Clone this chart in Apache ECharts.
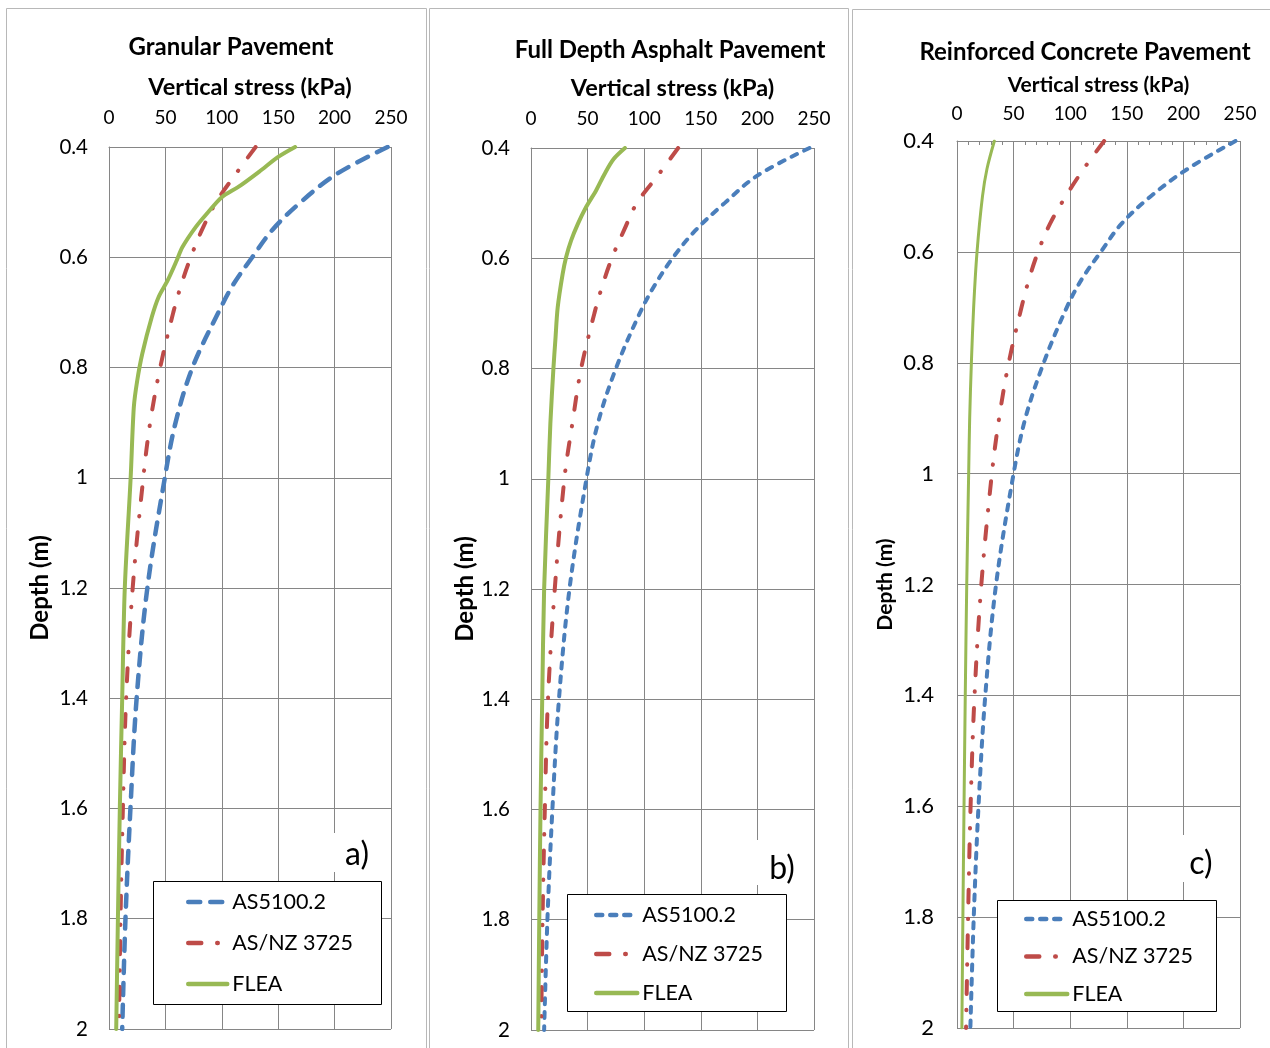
<!DOCTYPE html>
<html><head><meta charset="utf-8">
<script src="https://cdn.jsdelivr.net/npm/echarts@6/dist/echarts.min.js"></script>
<style>html,body{margin:0;padding:0;background:#fff}#c{width:1270px;height:1048px}</style>
</head><body><div id="c"></div>
<script>
// ---------- DATA ----------
const panelTitles = ['Granular Pavement', 'Full Depth Asphalt Pavement', 'Reinforced Concrete Pavement'];
const panelTags = ['a)', 'b)', 'c)'];
const seriesNames = ['AS5100.2', 'AS/NZ 3725', 'FLEA'];
const xAxisTitle = 'Vertical stress (kPa)';
const yAxisTitle = 'Depth (m)';

// depths (m) for the code curves
const depthStd = [0.4, 0.45, 0.5, 0.55, 0.6, 0.65, 0.7, 0.8, 0.9, 1.0, 1.2, 1.4, 1.6, 1.8, 2.0];

// a) Granular pavement
const as5100A = [247, 201, 170, 145, 127, 110, 97, 74, 59, 49.5, 34, 24.5, 19, 14.6, 11.7];
const asnzA   = [130, 112, 95, 82.5, 72.5, 64, 57, 45.4, 36.5, 30.4, 21, 15.2, 12.3, 10.2, 8.8];
const fleaDepthA = [0.4, 0.418, 0.445, 0.472, 0.491, 0.518, 0.545, 0.582, 0.606, 0.642, 0.672, 0.708, 0.775, 0.824, 0.872, 1.0, 1.2, 1.4, 1.6, 1.8, 2.0];
const fleaA      = [165, 150, 133, 115, 100, 88, 77, 65, 60, 52, 44, 38, 29.5, 25, 22, 19.2, 14, 11.7, 9.6, 7.9, 6.4];

// b) Full depth asphalt pavement
const as5100B = [246, 200, 171, 145, 125, 109, 96, 75, 59, 49, 34, 24.7, 18.9, 14.5, 11.6];
const asnzB   = [130, 112, 93.5, 82, 71.4, 63, 56, 44.3, 36.5, 29.5, 21, 15, 12.2, 10.2, 9];
const fleaDepthB = [0.4, 0.42, 0.447, 0.477, 0.507, 0.538, 0.568, 0.598, 0.628, 0.689, 0.749, 0.8, 0.9, 1.0, 1.2, 1.4, 1.6, 1.8, 2.0];
const fleaB      = [83, 73, 65, 57.5, 48.7, 41.3, 35.4, 31, 28, 23.6, 21.5, 19.8, 17.1, 15.3, 11.6, 9.9, 8.4, 7.3, 6.4];

// c) Reinforced concrete pavement
const as5100C = [246, 204, 171, 145, 127, 110, 97, 76.6, 60.4, 50, 34.5, 25, 19, 14.8, 11.8];
const asnzC   = [130, 112, 96, 82, 71.6, 63.5, 57, 45.7, 37.2, 30.8, 21.5, 15.5, 12, 9.8, 8];
const fleaDepthC = [0.4, 0.45, 0.5, 0.6, 0.7, 0.8, 0.9, 1.0, 1.2, 1.4, 1.6, 1.8, 2.0];
const fleaC      = [33, 26.5, 22.5, 17.7, 14.7, 12.7, 11.2, 10.3, 8.6, 7.3, 6.2, 5.2, 4.3];

const stressMin = 0, stressMax = 250, stressStep = 50;
const depthMin = 0.4, depthMax = 2.0, depthStep = 0.2;

// ---------- STYLE / LAYOUT ----------
const FF = 'Lato, "Open Sans", sans-serif';
const BLUE = '#4a7ebb', RED = '#be4b48', GREEN = '#98b954', GRID = '#868686';

const grids = [
  {left: 109, top: 147, width: 282, height: 882},
  {left: 531, top: 148, width: 283, height: 882},
  {left: 957, top: 141, width: 283, height: 887}
];
const panelCfg = [
  {titleX: 231, titleY: 47, titleSize: 24, nameSize: 23.5, nameGap: 48, tickSize: 19, tickMargin: 20,
   ySize: 20.5, yMargin: 21, yNameSize: 24, yNameGap: 57,
   blueDash: [12, 10], blueW: 4.5, redW: 4, greenW: 4,
   legendBox: [153.5, 881.5, 228, 123], legendLeft: 186, legendTop: 891, legendGap: 19, legendIconW: 39,
   tag: {x: 357, y: 855, box: [329, 833, 52, 39]}},
  {titleX: 670, titleY: 50, titleSize: 24, nameSize: 23.5, nameGap: 48, tickSize: 19, tickMargin: 20,
   ySize: 20.5, yMargin: 21, yNameSize: 24, yNameGap: 54,
   blueDash: [6, 8], blueW: 4, redW: 4, greenW: 4,
   legendBox: [567.5, 894.5, 219, 117], legendLeft: 594, legendTop: 904, legendGap: 17, legendIconW: 41,
   tag: {x: 782, y: 869, box: [753, 840, 50, 45]}},
  {titleX: 1085, titleY: 52, titleSize: 24, nameSize: 21, nameGap: 45, tickSize: 19, tickMargin: 18,
   ySize: 22, yMargin: 23, yNameSize: 21, yNameGap: 61,
   blueDash: [6, 8], blueW: 4, redW: 4, greenW: 3,
   legendBox: [997.5, 900.5, 219, 111], legendLeft: 1024, legendTop: 908, legendGap: 15.5, legendIconW: 41,
   tag: {x: 1201, y: 864, box: [1178, 835, 44, 47]}}
];

const panelData = [
  {blue: as5100A, red: asnzA, greenD: fleaDepthA, green: fleaA},
  {blue: as5100B, red: asnzB, greenD: fleaDepthB, green: fleaB},
  {blue: as5100C, red: asnzC, greenD: fleaDepthC, green: fleaC}
];

function pairs(xs, ys) { return xs.map((v, i) => [v, ys[i]]); }

const xAxes = [], yAxes = [], series = [], legends = [], graphics = [];
const panelBorders = [[6.5, 8.5, 420, 1060], [429.5, 8.5, 419, 1060], [852.5, 9.5, 430, 1060]];

panelCfg.forEach((p, i) => {
  const d = panelData[i];
  xAxes.push({
    gridIndex: i, type: 'value', position: 'top', min: stressMin, max: stressMax, interval: stressStep,
    name: xAxisTitle, nameLocation: 'middle', nameGap: p.nameGap,
    nameTextStyle: {fontSize: p.nameSize, fontWeight: 'bold', color: '#000', fontFamily: FF},
    axisLine: {show: true, lineStyle: {color: GRID, width: 1}},
    axisTick: {show: i === 2, inside: true, length: 5, lineStyle: {color: GRID}},
    minorTick: {show: i === 2, splitNumber: 5, length: 4, lineStyle: {color: GRID}},
    axisLabel: {fontSize: p.tickSize, color: '#000', margin: p.tickMargin, fontFamily: FF},
    splitLine: {show: true, lineStyle: {color: GRID, width: 1}}
  });
  yAxes.push({
    gridIndex: i, type: 'value', inverse: true, min: depthMin, max: depthMax, interval: depthStep,
    name: yAxisTitle, nameLocation: 'middle', nameGap: p.yNameGap,
    nameTextStyle: {fontSize: p.yNameSize, fontWeight: 'bold', color: '#000', fontFamily: FF},
    axisLine: {show: true, lineStyle: {color: GRID, width: 1}},
    axisTick: {show: false},
    axisLabel: {fontSize: p.ySize, color: '#000', margin: p.yMargin, fontFamily: FF},
    splitLine: {show: true, lineStyle: {color: GRID, width: 1}}
  });
  const tag = '@' + i;
  series.push({
    type: 'line', name: seriesNames[0] + tag, xAxisIndex: i, yAxisIndex: i,
    data: pairs(d.blue, depthStd), symbol: 'none', smooth: 0.35, z: 3,
    lineStyle: {color: BLUE, width: p.blueW, type: p.blueDash, cap: 'round'}, itemStyle: {color: BLUE}
  });
  series.push({
    type: 'line', name: seriesNames[1] + tag, xAxisIndex: i, yAxisIndex: i,
    data: pairs(d.red, depthStd), symbol: 'none', smooth: 0.35, z: 4,
    lineStyle: {color: RED, width: p.redW, type: [13, 16, 0.5, 16], cap: 'round'}, itemStyle: {color: RED}
  });
  series.push({
    type: 'line', name: seriesNames[2] + tag, xAxisIndex: i, yAxisIndex: i,
    data: pairs(d.green, d.greenD), symbol: 'none', smooth: 0.3, z: 5,
    lineStyle: {color: GREEN, width: p.greenW, type: 'solid', cap: 'round'}, itemStyle: {color: GREEN}
  });
  legends.push({
    left: p.legendLeft, top: p.legendTop, orient: 'vertical', padding: 0, z: 200,
    data: seriesNames.map(n => n + tag), formatter: n => n.split('@')[0],
    itemWidth: p.legendIconW, itemHeight: 20, itemGap: p.legendGap, selectedMode: false,
    itemStyle: {opacity: 0},
    lineStyle: {width: 4.5, cap: 'round'},
    textStyle: {fontSize: 21.5, color: '#000', fontFamily: FF}
  });
  const b = panelBorders[i];
  graphics.push({type: 'rect', z: -10, shape: {x: b[0], y: b[1], width: b[2], height: b[3]},
    style: {fill: 'none', stroke: '#b8b8b8', lineWidth: 1}});
  graphics.push({type: 'text', z: 100, x: p.titleX, y: p.titleY,
    style: {text: panelTitles[i], align: 'center', verticalAlign: 'middle',
      font: 'bold ' + p.titleSize + 'px ' + FF, fill: '#000'}});
  const lb = p.legendBox;
  graphics.push({type: 'rect', z: 100, shape: {x: lb[0], y: lb[1], width: lb[2], height: lb[3]},
    style: {fill: '#fff', stroke: '#000', lineWidth: 1}});
  const tb = p.tag.box;
  graphics.push({type: 'rect', z: 100, shape: {x: tb[0], y: tb[1], width: tb[2], height: tb[3]},
    style: {fill: '#fff', stroke: null}});
  graphics.push({type: 'text', z: 101, x: p.tag.x, y: p.tag.y,
    style: {text: panelTags[i], align: 'center', verticalAlign: 'middle',
      font: '32px ' + FF, fill: '#000'}});
});

const chart = echarts.init(document.getElementById('c'), null, {renderer: 'canvas'});
chart.setOption({
  animation: false,
  backgroundColor: '#fff',
  textStyle: {fontFamily: FF},
  grid: grids,
  xAxis: xAxes,
  yAxis: yAxes,
  legend: legends,
  series: series,
  graphic: graphics
});
</script></body></html>
